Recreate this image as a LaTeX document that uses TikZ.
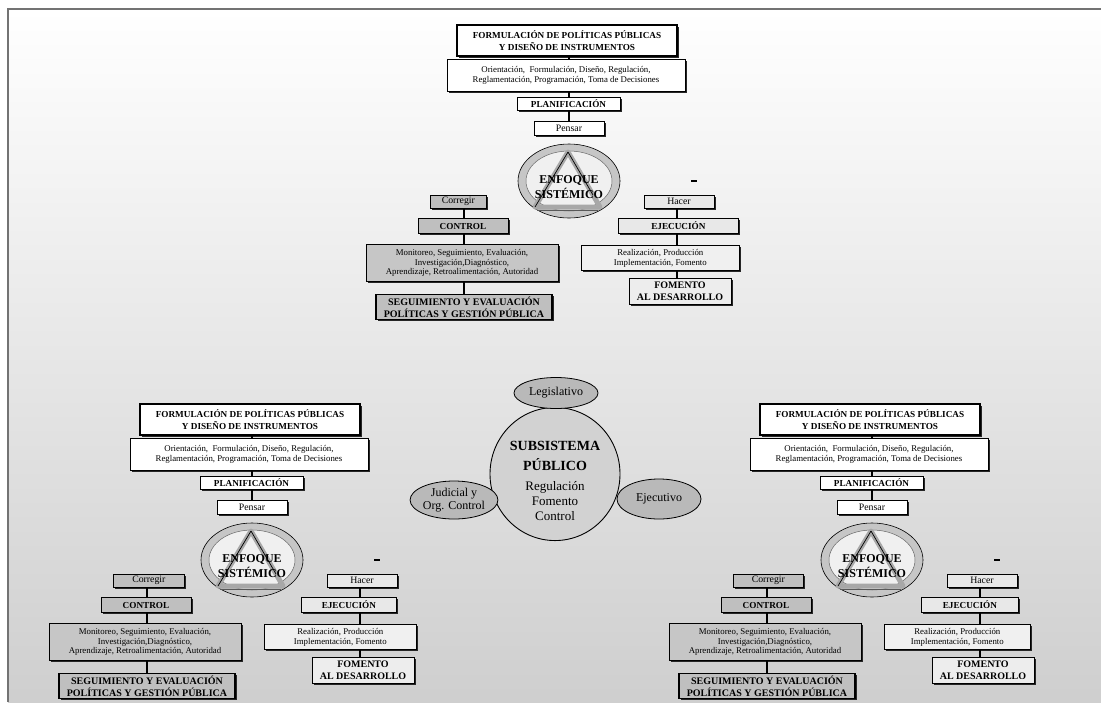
\documentclass[tikz,border=0pt]{standalone}
\usepackage{fontspec}
\setmainfont{Liberation Serif}
\usetikzlibrary{shadows,shapes.geometric,calc}

\tikzset{
  box/.style={draw, line width=0.7pt, align=center, inner sep=0.5pt,
    drop shadow={shadow xshift=1.6pt, shadow yshift=-1.6pt, opacity=1, fill=black!85}},
  headbox/.style={box, font=\fontsize{9.2}{11.5}\selectfont\bfseries},
  wordbox/.style={box, font=\fontsize{9.8}{11}\selectfont},
  listbox/.style={box, font=\fontsize{8.8}{9.8}\selectfont},
  link/.style={line width=2.4pt, line cap=butt},
  power/.style={draw, ellipse, line width=0.8pt, fill=gray!55, inner sep=0pt,
    font=\fontsize{12}{13}\selectfont, align=center},
}

\begin{document}
\begin{tikzpicture}[x=1pt, y=-1pt]
  \useasboundingbox (0,0) rectangle (1101,702);
  \shade[top color=white, bottom color=gray!38] (8,9) rectangle (1101,702);
  \draw[black!55, line width=2pt] (8,702) -- (8,9) -- (1101,9);

  % three copies of the planning cycle
  \foreach \m/\cx/\ty/\cw/\ew/\rw in {t/567/25/56/120/158, l/250/404/71/95/152, r/870/404/70/97/146}{
  \begin{scope}[shift={(\cx,\ty)}]
    \coordinate (\m-ccol) at (2,0);
    \coordinate (\m-lcol) at (-103,0);
    \coordinate (\m-rcol) at (110,0);

    \node[headbox, fill=white, line width=1.6pt, minimum width=220pt, minimum height=31pt] (\m-formul) at (0,15.5)
      {FORMULACIÓN DE POLÍTICAS PÚBLICAS\\Y DISEÑO DE INSTRUMENTOS};
    \node[listbox, fill=white, minimum width=238pt, minimum height=32pt] (\m-orient) at (-1,50)
      {Orientación,\ \ Formulación, Diseño, Regulación,\\Reglamentación, Programación,\ Toma de Decisiones};
    \node[headbox, fill=white, minimum width=103pt, minimum height=13pt] (\m-plan) at (1.5,79) {PLANIFICACIÓN};
    \node[wordbox, fill=white, minimum width=70pt, minimum height=14pt] (\m-pensar) at (2,103) {Pensar};

    % enfoque sistemico
    \draw[fill=gray!45, line width=0.6pt] (2,156) ellipse [x radius=51, y radius=37];
    \draw[fill=gray!12, draw=black!60, line width=0.5pt] (2,156) ellipse [x radius=43, y radius=30];
    \coordinate (\m-apex) at (1,127);
    \coordinate (\m-bl) at (-32,182);
    \coordinate (\m-br) at (33,182);
    \draw[gray!68, line width=5pt, line join=round] (\m-apex) -- (\m-br) -- (\m-bl) -- cycle;
    \draw[black!65, line width=0.6pt] ($(\m-bl)+(2,3.5)$) -- ($(\m-br)+(-2,3.5)$);
    \draw[line width=0.7pt] (\m-bl) -- (\m-apex);
    \draw[line width=0.7pt] (\m-apex) -- ($(\m-apex)!0.78!(\m-br)$);
    \node[font=\fontsize{12}{14.5}\selectfont\bfseries, align=center] (\m-enf) at (2,162) {ENFOQUE\\SISTÉMICO};
    \node[fill=black, inner sep=0pt, minimum width=6.5pt, minimum height=2pt] (\m-dash) at (127,156) {};

    \node[wordbox, fill=gray!50, anchor=west, minimum width=\cw pt, minimum height=13pt] (\m-corr) at (-137,176.5) {Corregir};
    \node[headbox, fill=gray!50, minimum width=90pt, minimum height=15pt] (\m-ctrl) at (-104,201) {CONTROL};
    \node[listbox, fill=gray!45, minimum width=192pt, minimum height=37pt] (\m-moni) at (-105,238)
      {Monitoreo, Seguimiento, Evaluación,\\Investigación,Diagnóstico,\\Aprendizaje, Retroalimentación, Autoridad};
    \node[headbox, fill=gray!50, line width=1.6pt, minimum width=176pt, minimum height=25pt,
      font=\fontsize{10}{12}\selectfont\bfseries] (\m-segu) at (-103,282)
      {SEGUIMIENTO Y EVALUACIÓN\\POLÍTICAS Y GESTIÓN PÚBLICA};

    \node[wordbox, fill=gray!18, minimum width=70pt, minimum height=13pt] (\m-hacer) at (112,176.5) {Hacer};
    \node[headbox, fill=gray!18, anchor=west, minimum width=\ew pt, minimum height=15pt] (\m-ejec) at (51,201) {EJECUCIÓN};
    \node[listbox, fill=gray!12, anchor=west, minimum width=\rw pt, minimum height=25pt] (\m-realiz) at (14,233)
      {Realización, Producción\\Implementación, Fomento};
    \node[headbox, fill=gray!14, minimum width=102pt, minimum height=26pt,
      font=\fontsize{10}{12}\selectfont\bfseries] (\m-fomento) at (113,266)
      {FOMENTO\\AL DESARROLLO};

    \draw[link] (\m-formul.south -| \m-ccol) -- (\m-orient.north -| \m-ccol);
    \draw[link] (\m-orient.south -| \m-ccol) -- (\m-plan.north -| \m-ccol);
    \draw[link] (\m-plan.south -| \m-ccol) -- (\m-pensar.north -| \m-ccol);
    \draw[link] (\m-corr.south -| \m-lcol) -- (\m-ctrl.north -| \m-lcol);
    \draw[link] (\m-ctrl.south -| \m-lcol) -- (\m-moni.north -| \m-lcol);
    \draw[link] (\m-moni.south -| \m-lcol) -- (\m-segu.north -| \m-lcol);
    \draw[link] (\m-hacer.south -| \m-rcol) -- (\m-ejec.north -| \m-rcol);
    \draw[link] (\m-ejec.south -| \m-rcol) -- (\m-realiz.north -| \m-rcol);
    \draw[link] (\m-realiz.south -| \m-rcol) -- (\m-fomento.north -| \m-rcol);
  \end{scope}
  }

  % public subsystem
  \node[draw, ellipse, line width=0.9pt, fill=gray!35, minimum width=130pt, minimum height=114pt,
    align=center, inner sep=0pt, font=\fontsize{14}{15}\selectfont\bfseries] (sub) at (555,474)
    {\rule{0pt}{24pt}SUBSISTEMA\\[5pt]PÚBLICO\\[5pt]
     \fontsize{13}{15}\selectfont\mdseries Regulación\\
     \fontsize{13}{15}\selectfont\mdseries Fomento\\
     \fontsize{13}{15}\selectfont\mdseries Control};
  \node[power, minimum width=84pt, minimum height=31pt] (legis) at (556,393) {Legislativo};
  \node[power, minimum width=86pt, minimum height=38pt] (judic) at (454,500) {Judicial y\\Org. Control};
  \node[power, minimum width=84pt, minimum height=40pt] (ejecu) at (659,499) {Ejecutivo};
\end{tikzpicture}
\end{document}
